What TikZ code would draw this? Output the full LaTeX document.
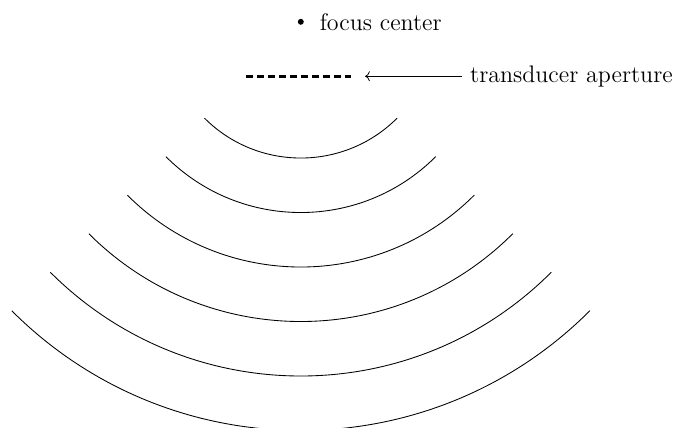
\documentclass[12pt,tikz,border=0pt]{standalone}
\usetikzlibrary{arrows.meta, positioning}

\begin{document}
\begin{tikzpicture}[>=To,
        every node/.style={font=\fontsize{12.5}{15}\selectfont},
        focusdot/.style={circle,fill=black,inner sep=1.1pt},
        aperture/.style={line width=1.6pt,dash pattern=on 3.6pt off 2.1pt},
        wavefront/.style={line width=0.45pt}]
      \useasboundingbox (-5.52,-7.45) rectangle (6.83,0.40);
      \node[focusdot] (focus) at (0,0) {};
      \node[right=0.14cm of focus] (focuslabel) {focus center};
      \draw[aperture] (-1,-1) -- (1,-1);
      \coordinate (apend) at (1.18,-1);
      \node[anchor=west] (trans) at (2.96,-1) {transducer aperture};
      \draw[->] (trans) -- (apend);
      % wavefronts spreading out from the focus
      \foreach \r in {2.5,3.5,...,7.5}
        \draw[wavefront] (225:\r) arc (225:315:\r);
    \end{tikzpicture}
\end{document}
